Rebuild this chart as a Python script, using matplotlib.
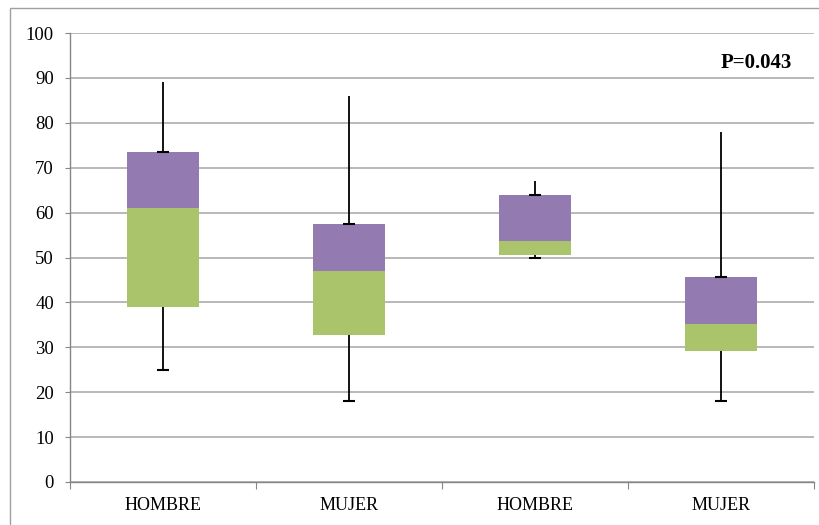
import matplotlib
matplotlib.use("Agg")
import matplotlib.pyplot as plt
from matplotlib.patches import Rectangle
import numpy as np

# Box-plot statistics per group
categories = ["HOMBRE", "MUJER", "HOMBRE", "MUJER"]
minimum = [25.0, 18.0, 50.0, 18.0]
q1 = [39.0, 32.7, 50.6, 29.2]
median = [61.0, 47.0, 53.6, 35.1]
q3 = [73.5, 57.5, 64.0, 45.6]
maximum = [89.0, 86.0, 67.0, 78.0]
y_ticks = [0, 10, 20, 30, 40, 50, 60, 70, 80, 90, 100]
p_label = "P=0.043"

green = "#AAC46C"
purple = "#937BB1"
grid_col = "#A6A6A6"
font = ["Liberation Serif", "DejaVu Serif"]

fig = plt.figure(figsize=(8.2, 5.25), dpi=100)
ax = fig.add_axes([70 / 820, 1 - 482 / 525, 744 / 820, 449 / 525])

# outer chart frame
fig.patches.append(Rectangle((10 / 820, -0.02), 1.2, 1 - 8 / 525 + 0.02,
                             transform=fig.transFigure, fill=False,
                             edgecolor="#A0A0A0", linewidth=1.0))

x = np.arange(len(categories))
width = 0.39
q1a, meda, q3a = np.array(q1), np.array(median), np.array(q3)

ax.bar(x, meda - q1a, bottom=q1a, width=width, color=green, zorder=3)
ax.bar(x, q3a - meda, bottom=meda, width=width, color=purple, zorder=3)

cap = 0.065
ax.vlines(x, q3a, maximum, color="black", linewidth=1.3, zorder=2)
ax.vlines(x, minimum, q1a, color="black", linewidth=1.3, zorder=2)
ax.hlines(q3a, x - cap / 2, x + cap / 2, color="black", linewidth=1.5, zorder=4)
ax.hlines(minimum, x - cap / 2, x + cap / 2, color="black", linewidth=1.5, zorder=4)

ax.set_xlim(-0.5, len(categories) - 0.5)
ax.set_ylim(0, 100)
ax.set_yticks(y_ticks)
ax.set_yticklabels([str(t) for t in y_ticks], fontfamily=font, fontsize=13.5)
ax.yaxis.grid(True, color=grid_col, linewidth=1.1)
ax.set_axisbelow(True)

ax.set_xticks(np.arange(-0.5, len(categories), 1.0))
ax.set_xticklabels([])
ax.set_xticks(x, minor=True)
ax.set_xticklabels(categories, minor=True, fontfamily=font, fontsize=13)
ax.tick_params(axis="x", which="minor", length=0, pad=11)
ax.tick_params(axis="x", which="major", length=5, color="#868686", direction="out")
ax.tick_params(axis="y", length=3.6, color="#868686", direction="out", pad=8)

for s in ("top", "right"):
    ax.spines[s].set_visible(False)
for s in ("left", "bottom"):
    ax.spines[s].set_color("#868686")
    ax.spines[s].set_linewidth(1.0)

ax.text(3.38, 93.3, p_label, ha="right", va="center", fontfamily=font,
        fontsize=15, fontweight="bold")

fig.savefig("out.png", dpi=100, facecolor="white")
